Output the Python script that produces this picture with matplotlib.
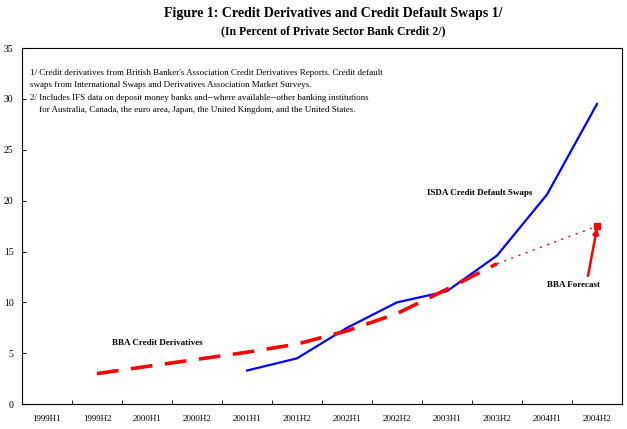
"""Credit derivatives vs credit default swaps, % of private sector bank credit."""

import matplotlib

matplotlib.use("Agg")
import matplotlib.pyplot as plt
import numpy as np

periods = ["1999H1", "1999H2", "2000H1", "2000H2", "2001H1", "2001H2",
           "2002H1", "2002H2", "2003H1", "2003H2", "2004H1", "2004H2"]

# BBA credit derivatives (actual, through 2003H2)
bba_values = [np.nan, 3.0, 3.7, 4.4, 5.1, 5.9, 7.2, 8.9, 11.3, 13.8, np.nan, np.nan]
# BBA forecast segment
fc_periods = ["2003H2", "2004H2"]
fc_values = [13.8, 17.5]
# ISDA credit default swaps
isda_values = [np.nan, np.nan, np.nan, np.nan, 3.3, 4.5, 7.5, 10.0, 11.1, 14.6, 20.6, 29.5]

notes = [
    "1/ Credit derivatives from British Banker's Association Credit Derivatives Reports. Credit default",
    "swaps from International Swaps and Derivatives Association Market Surveys.",
    "2/ Includes IFS data on deposit money banks and--where available--other banking institutions",
    "    for Australia, Canada, the euro area, Japan, the United Kingdom, and the United States.",
]

plt.rcParams["font.family"] = ["Liberation Serif", "DejaVu Serif"]

fig = plt.figure(figsize=(6.27, 4.29), dpi=100)
ax = fig.add_axes([0.035, 0.058, 0.957, 0.830])

x = np.arange(len(periods))
ax.plot(x, isda_values, color="#0000ff", linewidth=1.6)
ax.plot(x, bba_values, color="#ff0000", linewidth=2.6, dashes=(6, 3.5))
fc_x = [periods.index(p) for p in fc_periods]
ax.plot(fc_x, fc_values, color="#ff0000", linewidth=1.0, dashes=(1.5, 4))
ax.plot(fc_x[-1], fc_values[-1], marker="s", color="#ff0000", markersize=4.5)

ax.annotate("", xy=(fc_x[-1], fc_values[-1] - 0.2), xytext=(10.82, 12.6),
            arrowprops=dict(arrowstyle="-|>", color="#ff0000", lw=1.8,
                            mutation_scale=8, shrinkA=0, shrinkB=0))

ax.text(10.0, 11.7, "BBA Forecast", fontsize=6.5, fontweight="bold", ha="left", va="center")
ax.text(7.6, 20.8, "ISDA Credit Default Swaps", fontsize=6.5, fontweight="bold",
        ha="left", va="center")
ax.text(1.3, 6.0, "BBA Credit Derivatives", fontsize=6.5, fontweight="bold",
        ha="left", va="center")

for i, line in enumerate(notes):
    ax.text(0.013, 0.93 - i * 0.035, line, transform=ax.transAxes,
            fontsize=6.5, ha="left", va="center")

ax.set_xlim(-0.5, len(periods) - 0.5)
ax.set_ylim(0, 35)
ax.set_yticks(range(0, 36, 5))
ax.set_xticks(x)
ax.set_xticklabels(periods)
ax.set_xticks(np.arange(0.5, len(periods) - 1, 1.0), minor=True)
ax.tick_params(axis="x", which="major", length=0, labelsize=6.5, pad=8)
ax.tick_params(axis="x", which="minor", direction="in", length=3)
ax.tick_params(axis="y", direction="in", length=3, labelsize=7, pad=6)
for sp in ax.spines.values():
    sp.set_linewidth(0.8)

fig.text(0.532, 0.968, "Figure 1: Credit Derivatives and Credit Default Swaps 1/",
         ha="center", va="center", fontsize=10, fontweight="bold")
fig.text(0.532, 0.928, "(In Percent of Private Sector Bank Credit 2/)",
         ha="center", va="center", fontsize=8.5, fontweight="bold")

fig.savefig("out.png", dpi=100)
